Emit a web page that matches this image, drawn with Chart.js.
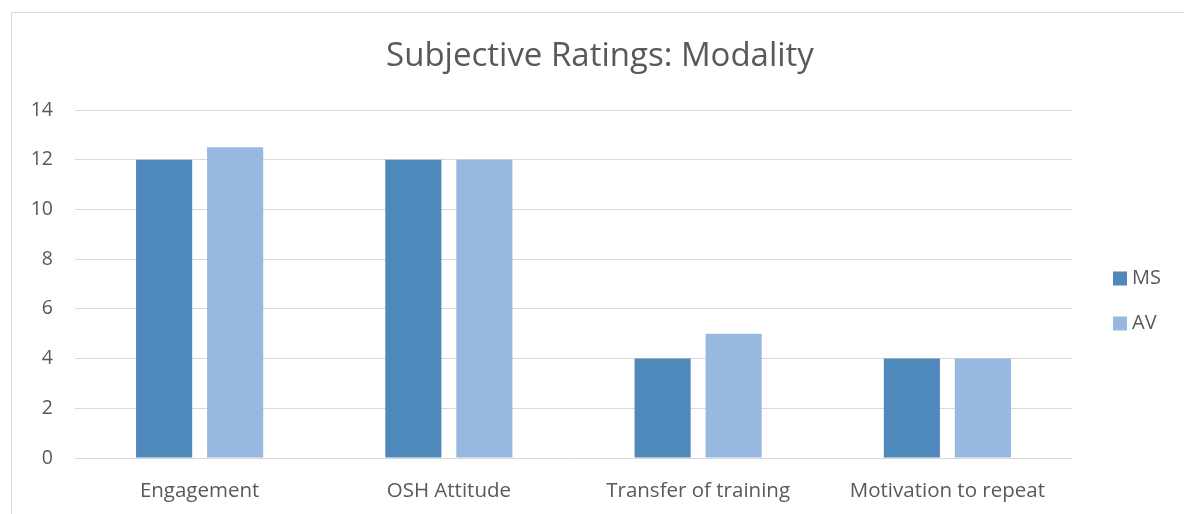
<!DOCTYPE html>
<html>
<head>
<meta charset="utf-8">
<script src="https://cdn.jsdelivr.net/npm/chart.js@4"></script>
<style>
  html, body { margin: 0; padding: 0; background: #ffffff; }
  #wrap { position: relative; width: 1184px; height: 514px; }
</style>
</head>
<body>
<div id="wrap"><canvas id="chart" width="1184" height="514"></canvas></div>
<script>
const categories = ['Engagement', 'OSH Attitude', 'Transfer of training', 'Motivation to repeat'];
const msValues = [12, 12, 4, 4];
const avValues = [12.5, 12, 5, 4];
const yTicks = [0, 2, 4, 6, 8, 10, 12, 14];
const chartTitle = 'Subjective Ratings: Modality';

const FONT = "'Open Sans', 'Liberation Sans', sans-serif";
const TEXT = '#595959';

// Outer frame, title centred on the whole canvas, and a legend on the right side
const framePlugin = {
  id: 'frameAndLegend',
  beforeDraw(chart) {
    const ctx = chart.ctx;
    ctx.save();
    ctx.strokeStyle = '#D9D9D9';
    ctx.lineWidth = 1;
    ctx.strokeRect(11.5, 12.5, 1300, 600);
    ctx.restore();
  },
  afterDraw(chart) {
    const ctx = chart.ctx;
    ctx.save();
    ctx.fillStyle = TEXT;
    ctx.font = '33px ' + FONT;
    ctx.textAlign = 'center';
    ctx.textBaseline = 'middle';
    ctx.fillText(chartTitle, 600, 57);

    ctx.textAlign = 'left';
    ctx.font = '20px ' + FONT;
    chart.data.datasets.forEach((ds, i) => {
      const y = 278.5 + i * 45;
      ctx.fillStyle = ds.backgroundColor;
      ctx.fillRect(1113, y - 7, 14, 14);
      ctx.fillStyle = TEXT;
      ctx.fillText(ds.label, 1132, y);
    });
    ctx.restore();
  }
};

new Chart(document.getElementById('chart'), {
  type: 'bar',
  data: {
    labels: categories,
    datasets: [
      { label: 'MS', data: msValues, backgroundColor: '#4F88BB' },
      { label: 'AV', data: avValues, backgroundColor: '#97B8DF' }
    ]
  },
  options: {
    responsive: false,
    animation: false,
    devicePixelRatio: 1,
    categoryPercentage: 0.57,
    barPercentage: 0.79,
    layout: { padding: { left: 0, right: 112, top: 110, bottom: 0 } },
    plugins: {
      legend: { display: false },
      tooltip: { enabled: false },
      title: { display: false }
    },
    scales: {
      x: {
        grid: { display: false, drawTicks: false },
        border: { display: false },
        ticks: { color: TEXT, font: { family: FONT, size: 20.5 }, padding: 21, maxRotation: 0 },
        afterFit(s) { s.height = 56; }
      },
      y: {
        min: 0,
        max: 14,
        afterBuildTicks(s) { s.ticks = yTicks.map(v => ({ value: v })); },
        grid: { color: '#D9D9D9', lineWidth: 1, drawTicks: false },
        border: { display: false },
        ticks: { color: TEXT, font: { family: FONT, size: 19.5 }, padding: 22 },
        afterFit(s) { s.width = 75; }
      }
    }
  },
  plugins: [framePlugin]
});
</script>
</body>
</html>
